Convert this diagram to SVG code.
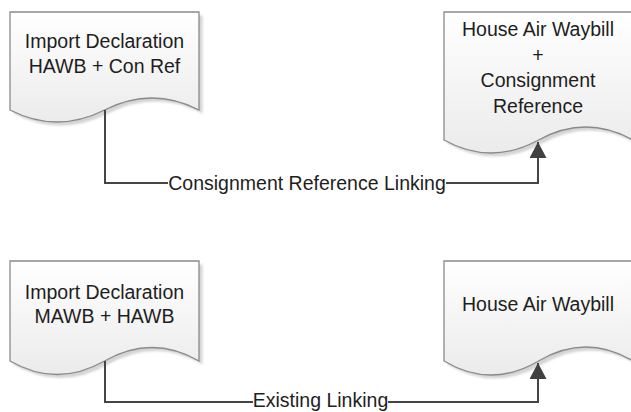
<svg xmlns="http://www.w3.org/2000/svg" width="631" height="412" viewBox="0 0 631 412">
  <defs>
    <linearGradient id="docFill" x1="0" y1="0" x2="0" y2="1">
      <stop offset="0" stop-color="#ffffff"/>
      <stop offset="1" stop-color="#ebebeb"/>
    </linearGradient>
    <filter id="blur" x="-10%" y="-10%" width="120%" height="120%">
      <feGaussianBlur stdDeviation="1.2"/>
    </filter>
    <marker id="arrow" viewBox="0 0 16 17" refX="16" refY="8.5" markerWidth="16" markerHeight="17" markerUnits="userSpaceOnUse" orient="auto">
      <path d="M0,0 L16,8.5 L0,17 Z" fill="#404040"/>
    </marker>
  </defs>
  <style>
    .shadow { fill: #d4d4d4; filter: url(#blur); }
    .doc { fill: url(#docFill); stroke: #8a8a8a; stroke-width: 1.3; }
    .label { font-family: "Liberation Sans", Arial, sans-serif; font-size: 19.5px; fill: #1e1e1e; text-anchor: middle; }
    .conn { fill: none; stroke: #454545; stroke-width: 2; }
    .lblbg { fill: #ffffff; }
  </style>
  <rect width="631" height="412" fill="#ffffff"/>

  <g id="node-import-hawb-conref">
    <path class="shadow" transform="translate(3.5,3.5)" d="M10,12 H199 V110 Q152,86 104.5,110 T10,110 Z"/>
    <path class="doc" d="M10,12 H199 V110 Q152,86 104.5,110 T10,110 Z"/>
    <text class="label" x="104.5" y="48">Import Declaration</text>
    <text class="label" x="104.5" y="73">HAWB + Con Ref</text>
  </g>

  <g id="node-hawb-conref">
    <path class="shadow" transform="translate(3.5,3.5)" d="M444,12 H633 V140 Q586,114 538.5,140 T444,140 Z"/>
    <path class="doc" d="M444,12 H633 V140 Q586,114 538.5,140 T444,140 Z"/>
    <text class="label" x="538" y="36">House Air Waybill</text>
    <text class="label" x="538" y="61.5">+</text>
    <text class="label" x="538" y="87">Consignment</text>
    <text class="label" x="538" y="112.5">Reference</text>
  </g>

  <g id="node-import-mawb-hawb">
    <path class="shadow" transform="translate(3.5,3.5)" d="M10,261 H199 V361 Q152,334 104.5,361 T10,361 Z"/>
    <path class="doc" d="M10,261 H199 V361 Q152,334 104.5,361 T10,361 Z"/>
    <text class="label" x="104.5" y="299">Import Declaration</text>
    <text class="label" x="104.5" y="323">MAWB + HAWB</text>
  </g>

  <g id="node-hawb">
    <path class="shadow" transform="translate(3.5,3.5)" d="M444,261 H633 V361 Q586,333 538.5,361 T444,361 Z"/>
    <path class="doc" d="M444,261 H633 V361 Q586,333 538.5,361 T444,361 Z"/>
    <text class="label" x="538" y="311">House Air Waybill</text>
  </g>

  <g id="connectors">
    <path class="conn" d="M105,110 V183 H538 V142" marker-end="url(#arrow)"/>
    <rect class="lblbg" x="168" y="173" width="278" height="21"/>
    <text class="label" x="307" y="190">Consignment Reference Linking</text>

    <path class="conn" d="M105,361 V402 H538 V363" marker-end="url(#arrow)"/>
    <rect class="lblbg" x="253" y="393" width="135" height="19"/>
    <text class="label" x="320.5" y="407">Existing Linking</text>
  </g>
</svg>
